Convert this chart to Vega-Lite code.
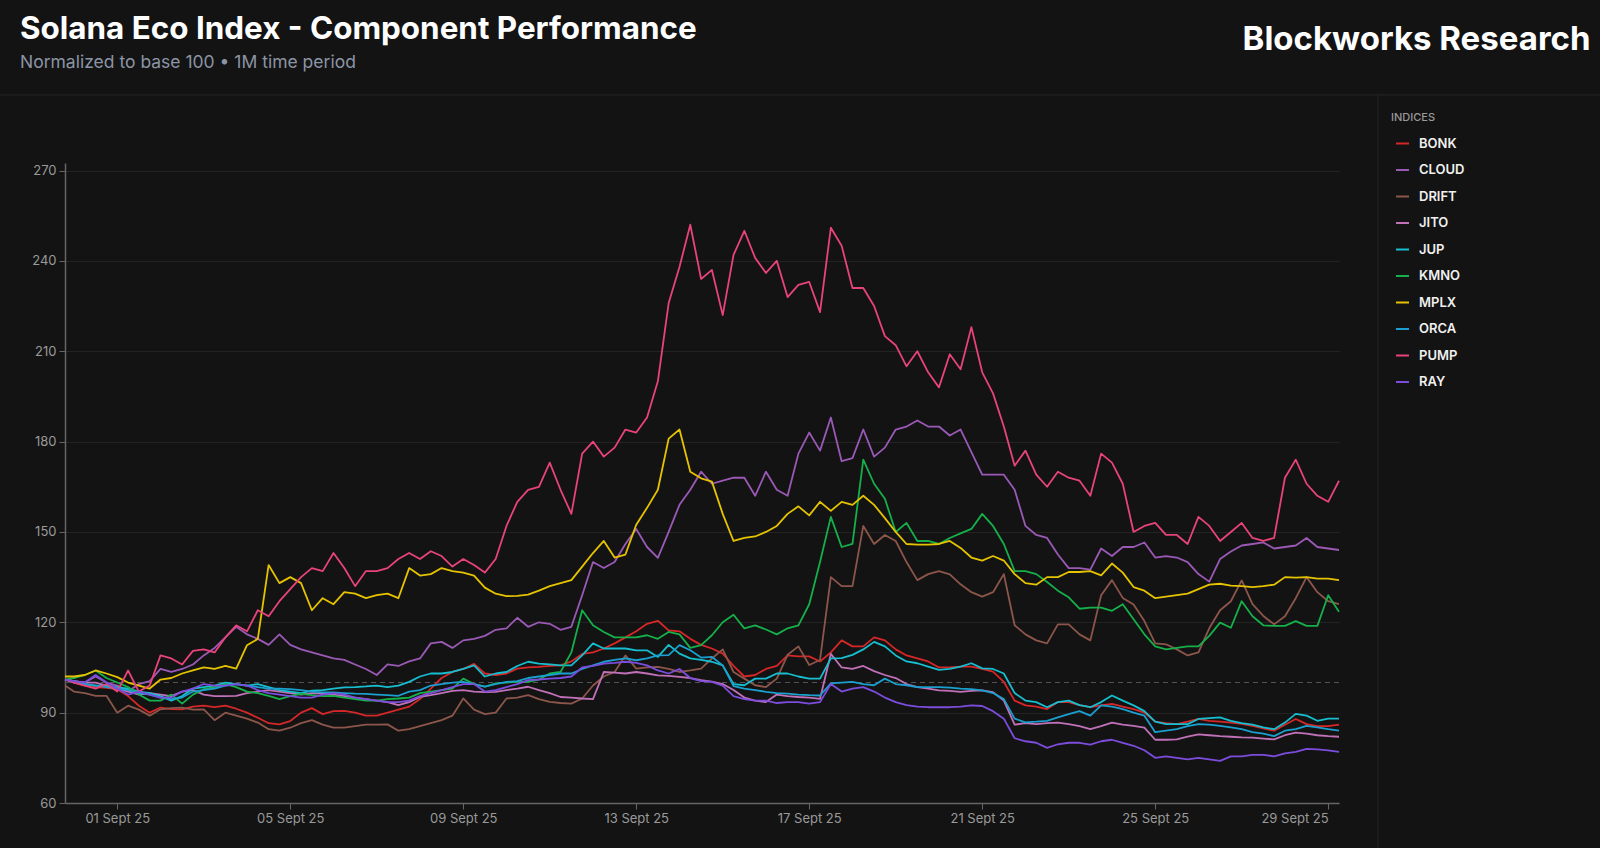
{
"$schema":"https://vega.github.io/schema/vega-lite/v6.json",
"width":1274,"height":640,
"autosize":{"type":"none"},
"padding":{"left":65,"top":163,"right":261,"bottom":45},
"background":"#131313",
"config":{"view":{"stroke":null},"font":"Inter"},
"title":{"text":"Solana Eco Index - Component Performance","subtitle":"Normalized to base 100 • 1M time period","anchor":"start","frame":"group","dx":-45,"offset":-48,"font":"Inter","fontSize":31.4,"fontWeight":700,"color":"#ffffff","subtitleFont":"Inter","subtitleColor":"#8b95a5","subtitleFontSize":17.5,"subtitleFontWeight":400,"subtitlePadding":8},
"datasets":{"prices":[
{"t":"2025-08-30T19:00","BONK":101,"CLOUD":101,"DRIFT":99,"JITO":101,"JUP":101,"KMNO":101,"MPLX":102,"ORCA":101,"PUMP":101,"RAY":101},
{"t":"2025-08-31T00:00","BONK":100,"CLOUD":100.5,"DRIFT":97,"JITO":100.5,"JUP":100.5,"KMNO":101.5,"MPLX":102,"ORCA":100,"PUMP":100,"RAY":100.5},
{"t":"2025-08-31T06:00","BONK":99,"CLOUD":100,"DRIFT":96.5,"JITO":100,"JUP":99.5,"KMNO":102.5,"MPLX":102.5,"ORCA":99.5,"PUMP":99,"RAY":100},
{"t":"2025-08-31T12:00","BONK":98.5,"CLOUD":102,"DRIFT":95.6,"JITO":100,"JUP":99,"KMNO":104,"MPLX":104,"ORCA":99,"PUMP":98,"RAY":102.5},
{"t":"2025-08-31T18:00","BONK":98.2,"CLOUD":100,"DRIFT":95.6,"JITO":99,"JUP":99,"KMNO":101.5,"MPLX":103,"ORCA":98.5,"PUMP":99.5,"RAY":100},
{"t":"2025-09-01T00:00","BONK":97.8,"CLOUD":99,"DRIFT":90,"JITO":98,"JUP":98.5,"KMNO":100,"MPLX":101.8,"ORCA":98,"PUMP":97,"RAY":98},
{"t":"2025-09-01T06:00","BONK":95.5,"CLOUD":97,"DRIFT":92.3,"JITO":97,"JUP":98,"KMNO":98.5,"MPLX":100,"ORCA":97.5,"PUMP":104,"RAY":96},
{"t":"2025-09-01T12:00","BONK":92.3,"CLOUD":99.5,"DRIFT":91,"JITO":96,"JUP":97,"KMNO":96,"MPLX":99,"ORCA":96.5,"PUMP":97,"RAY":97},
{"t":"2025-09-01T18:00","BONK":90,"CLOUD":100.5,"DRIFT":89,"JITO":96.5,"JUP":96.5,"KMNO":94,"MPLX":98,"ORCA":96,"PUMP":99,"RAY":96},
{"t":"2025-09-02T00:00","BONK":91.7,"CLOUD":104.5,"DRIFT":91.1,"JITO":96,"JUP":95.5,"KMNO":94,"MPLX":101,"ORCA":95,"PUMP":109,"RAY":95},
{"t":"2025-09-02T06:00","BONK":91.2,"CLOUD":103.5,"DRIFT":91.5,"JITO":95.5,"JUP":94,"KMNO":96,"MPLX":101.5,"ORCA":94.5,"PUMP":108,"RAY":95},
{"t":"2025-09-02T12:00","BONK":91.1,"CLOUD":104.5,"DRIFT":91.7,"JITO":97,"JUP":95.5,"KMNO":93,"MPLX":103,"ORCA":95,"PUMP":106,"RAY":97},
{"t":"2025-09-02T18:00","BONK":92,"CLOUD":106,"DRIFT":91,"JITO":97.5,"JUP":98,"KMNO":96,"MPLX":104,"ORCA":97,"PUMP":110.5,"RAY":98},
{"t":"2025-09-03T00:00","BONK":92.3,"CLOUD":109,"DRIFT":91.1,"JITO":96,"JUP":98.5,"KMNO":97.8,"MPLX":105,"ORCA":97.5,"PUMP":111,"RAY":99.5},
{"t":"2025-09-03T06:00","BONK":91.8,"CLOUD":111.5,"DRIFT":87.5,"JITO":95.5,"JUP":99,"KMNO":98.5,"MPLX":104.5,"ORCA":98,"PUMP":110,"RAY":99},
{"t":"2025-09-03T12:00","BONK":92.3,"CLOUD":115,"DRIFT":90,"JITO":95.5,"JUP":100,"KMNO":99.5,"MPLX":105.5,"ORCA":99,"PUMP":115,"RAY":99},
{"t":"2025-09-03T18:00","BONK":91.3,"CLOUD":118.5,"DRIFT":89,"JITO":95.6,"JUP":99.5,"KMNO":98.5,"MPLX":104.6,"ORCA":99.5,"PUMP":119,"RAY":99.5},
{"t":"2025-09-04T00:00","BONK":90,"CLOUD":116,"DRIFT":88,"JITO":96.5,"JUP":99,"KMNO":97,"MPLX":112.4,"ORCA":99,"PUMP":117,"RAY":99},
{"t":"2025-09-04T06:00","BONK":88.3,"CLOUD":114.5,"DRIFT":86.7,"JITO":97,"JUP":99.5,"KMNO":96.5,"MPLX":114.5,"ORCA":98.5,"PUMP":124,"RAY":97.5},
{"t":"2025-09-04T12:00","BONK":86.5,"CLOUD":112.5,"DRIFT":84.5,"JITO":97.5,"JUP":98.5,"KMNO":95.6,"MPLX":139,"ORCA":98,"PUMP":122,"RAY":96.5},
{"t":"2025-09-04T18:00","BONK":86.1,"CLOUD":116,"DRIFT":84,"JITO":97,"JUP":97.5,"KMNO":94.5,"MPLX":133,"ORCA":98,"PUMP":127,"RAY":96},
{"t":"2025-09-05T00:00","BONK":87.2,"CLOUD":112.5,"DRIFT":85,"JITO":96.5,"JUP":97,"KMNO":95.5,"MPLX":135,"ORCA":97.8,"PUMP":131,"RAY":95.5},
{"t":"2025-09-05T06:00","BONK":90,"CLOUD":111,"DRIFT":86.5,"JITO":96,"JUP":96.5,"KMNO":96.2,"MPLX":133,"ORCA":97.5,"PUMP":135,"RAY":95},
{"t":"2025-09-05T12:00","BONK":91.5,"CLOUD":110,"DRIFT":87.5,"JITO":96.5,"JUP":97.3,"KMNO":95.8,"MPLX":124,"ORCA":97,"PUMP":138,"RAY":95},
{"t":"2025-09-05T18:00","BONK":89.5,"CLOUD":109,"DRIFT":86,"JITO":96.3,"JUP":97.5,"KMNO":95.5,"MPLX":128,"ORCA":96.7,"PUMP":137,"RAY":96},
{"t":"2025-09-06T00:00","BONK":90.5,"CLOUD":108,"DRIFT":85,"JITO":96,"JUP":98,"KMNO":95.6,"MPLX":126,"ORCA":96.7,"PUMP":143,"RAY":96.5},
{"t":"2025-09-06T06:00","BONK":90.6,"CLOUD":107.5,"DRIFT":85,"JITO":95.5,"JUP":98.4,"KMNO":95,"MPLX":130,"ORCA":96.5,"PUMP":138,"RAY":96},
{"t":"2025-09-06T12:00","BONK":90,"CLOUD":106,"DRIFT":85.5,"JITO":95,"JUP":98.5,"KMNO":94.5,"MPLX":129.5,"ORCA":96.3,"PUMP":132,"RAY":95},
{"t":"2025-09-06T18:00","BONK":89,"CLOUD":104.5,"DRIFT":86,"JITO":94.5,"JUP":98.7,"KMNO":94,"MPLX":128,"ORCA":96.2,"PUMP":137,"RAY":94.5},
{"t":"2025-09-07T00:00","BONK":89,"CLOUD":102.5,"DRIFT":86,"JITO":94,"JUP":99,"KMNO":94,"MPLX":129,"ORCA":96,"PUMP":137,"RAY":94},
{"t":"2025-09-07T06:00","BONK":90,"CLOUD":106,"DRIFT":86.1,"JITO":93.5,"JUP":98.5,"KMNO":94.5,"MPLX":129.5,"ORCA":95.8,"PUMP":138,"RAY":93.5},
{"t":"2025-09-07T12:00","BONK":91,"CLOUD":105.5,"DRIFT":84,"JITO":92.5,"JUP":99,"KMNO":94.7,"MPLX":128,"ORCA":95.6,"PUMP":141,"RAY":93.5},
{"t":"2025-09-07T18:00","BONK":92,"CLOUD":107,"DRIFT":84.5,"JITO":93.5,"JUP":100.2,"KMNO":95,"MPLX":138,"ORCA":97,"PUMP":143,"RAY":94},
{"t":"2025-09-08T00:00","BONK":94.5,"CLOUD":108,"DRIFT":85.5,"JITO":95.2,"JUP":102,"KMNO":96.5,"MPLX":135.5,"ORCA":97.5,"PUMP":141,"RAY":95.5},
{"t":"2025-09-08T06:00","BONK":98,"CLOUD":113,"DRIFT":86.5,"JITO":95.8,"JUP":103,"KMNO":97,"MPLX":136,"ORCA":99,"PUMP":143.6,"RAY":96.5},
{"t":"2025-09-08T12:00","BONK":101.5,"CLOUD":113.5,"DRIFT":87.5,"JITO":96.5,"JUP":103,"KMNO":97.5,"MPLX":138,"ORCA":99.5,"PUMP":142,"RAY":97.5},
{"t":"2025-09-08T18:00","BONK":103.5,"CLOUD":111.5,"DRIFT":89,"JITO":97.2,"JUP":103.5,"KMNO":98,"MPLX":137,"ORCA":100,"PUMP":138.5,"RAY":98.5},
{"t":"2025-09-09T00:00","BONK":104.5,"CLOUD":114,"DRIFT":94.7,"JITO":97.5,"JUP":104.5,"KMNO":101.3,"MPLX":136.5,"ORCA":100.2,"PUMP":141,"RAY":99.5},
{"t":"2025-09-09T06:00","BONK":106.2,"CLOUD":114.5,"DRIFT":91,"JITO":97,"JUP":105.7,"KMNO":99.5,"MPLX":135.5,"ORCA":99.5,"PUMP":139,"RAY":99.5},
{"t":"2025-09-09T12:00","BONK":103,"CLOUD":115.5,"DRIFT":89.5,"JITO":96.8,"JUP":102,"KMNO":98.6,"MPLX":131.5,"ORCA":98.6,"PUMP":136.5,"RAY":97},
{"t":"2025-09-09T18:00","BONK":102.5,"CLOUD":117.5,"DRIFT":90,"JITO":96.9,"JUP":103,"KMNO":99.7,"MPLX":129.5,"ORCA":99.5,"PUMP":141,"RAY":97.5},
{"t":"2025-09-10T00:00","BONK":103,"CLOUD":118,"DRIFT":94.7,"JITO":97.5,"JUP":103.5,"KMNO":100,"MPLX":128.7,"ORCA":100.2,"PUMP":152,"RAY":98.5},
{"t":"2025-09-10T06:00","BONK":104.6,"CLOUD":121.5,"DRIFT":95,"JITO":98,"JUP":105.5,"KMNO":100.2,"MPLX":128.8,"ORCA":100.5,"PUMP":160,"RAY":99.5},
{"t":"2025-09-10T12:00","BONK":105,"CLOUD":118.5,"DRIFT":95.8,"JITO":98.6,"JUP":106.9,"KMNO":100.2,"MPLX":129.2,"ORCA":101.5,"PUMP":164,"RAY":100.8},
{"t":"2025-09-10T18:00","BONK":105.2,"CLOUD":120,"DRIFT":94.5,"JITO":97.5,"JUP":106.3,"KMNO":101,"MPLX":130.5,"ORCA":102,"PUMP":165,"RAY":101},
{"t":"2025-09-11T00:00","BONK":105.5,"CLOUD":119.5,"DRIFT":93.6,"JITO":96.5,"JUP":106,"KMNO":103,"MPLX":132,"ORCA":102.5,"PUMP":173,"RAY":101.3},
{"t":"2025-09-11T06:00","BONK":105.7,"CLOUD":117.5,"DRIFT":93.2,"JITO":95.2,"JUP":105.7,"KMNO":103.5,"MPLX":133,"ORCA":103,"PUMP":164,"RAY":101.5},
{"t":"2025-09-11T12:00","BONK":107,"CLOUD":118.5,"DRIFT":93,"JITO":95,"JUP":105.7,"KMNO":110,"MPLX":134,"ORCA":103,"PUMP":156,"RAY":102},
{"t":"2025-09-11T18:00","BONK":109.5,"CLOUD":129,"DRIFT":94.7,"JITO":94.7,"JUP":109,"KMNO":124,"MPLX":138.5,"ORCA":104.5,"PUMP":176,"RAY":105},
{"t":"2025-09-12T00:00","BONK":110,"CLOUD":140,"DRIFT":99,"JITO":94.5,"JUP":113,"KMNO":119,"MPLX":143,"ORCA":105.7,"PUMP":180,"RAY":105.5},
{"t":"2025-09-12T06:00","BONK":111.3,"CLOUD":138,"DRIFT":102,"JITO":103.5,"JUP":111.3,"KMNO":116.8,"MPLX":147,"ORCA":106.9,"PUMP":175,"RAY":106.3},
{"t":"2025-09-12T12:00","BONK":113,"CLOUD":140,"DRIFT":103.5,"JITO":103.3,"JUP":111.3,"KMNO":115,"MPLX":141.5,"ORCA":107.5,"PUMP":178,"RAY":106.5},
{"t":"2025-09-12T18:00","BONK":115,"CLOUD":146,"DRIFT":109,"JITO":103,"JUP":111.3,"KMNO":115,"MPLX":142.5,"ORCA":108,"PUMP":184,"RAY":106.9},
{"t":"2025-09-13T00:00","BONK":117,"CLOUD":151,"DRIFT":104.6,"JITO":103.5,"JUP":110.7,"KMNO":115,"MPLX":152.4,"ORCA":107.4,"PUMP":183,"RAY":106.5},
{"t":"2025-09-13T06:00","BONK":119.5,"CLOUD":145,"DRIFT":105,"JITO":103,"JUP":110.7,"KMNO":115.7,"MPLX":158,"ORCA":108,"PUMP":188,"RAY":105.7},
{"t":"2025-09-13T12:00","BONK":120.5,"CLOUD":141.4,"DRIFT":105.2,"JITO":102.4,"JUP":108.5,"KMNO":114.5,"MPLX":164,"ORCA":109,"PUMP":200,"RAY":104},
{"t":"2025-09-13T18:00","BONK":117.3,"CLOUD":150,"DRIFT":104.5,"JITO":102.2,"JUP":112.5,"KMNO":116.8,"MPLX":181,"ORCA":109.1,"PUMP":226,"RAY":103},
{"t":"2025-09-14T00:00","BONK":117,"CLOUD":159,"DRIFT":103.5,"JITO":101.9,"JUP":109.6,"KMNO":116,"MPLX":184,"ORCA":112.4,"PUMP":238,"RAY":104.5},
{"t":"2025-09-14T06:00","BONK":114.5,"CLOUD":164,"DRIFT":104,"JITO":101.5,"JUP":108,"KMNO":111.5,"MPLX":170,"ORCA":110.7,"PUMP":252,"RAY":101.5},
{"t":"2025-09-14T12:00","BONK":112.5,"CLOUD":170,"DRIFT":104.6,"JITO":100.8,"JUP":107.5,"KMNO":112.4,"MPLX":167.8,"ORCA":108.3,"PUMP":234,"RAY":100.5},
{"t":"2025-09-14T18:00","BONK":111.3,"CLOUD":166,"DRIFT":108,"JITO":100.3,"JUP":106.9,"KMNO":115.7,"MPLX":166.7,"ORCA":108.5,"PUMP":237,"RAY":100.2},
{"t":"2025-09-15T00:00","BONK":109.6,"CLOUD":167,"DRIFT":111,"JITO":99.5,"JUP":105.7,"KMNO":120,"MPLX":156,"ORCA":105.7,"PUMP":222,"RAY":99},
{"t":"2025-09-15T06:00","BONK":105.5,"CLOUD":168,"DRIFT":103.5,"JITO":97.5,"JUP":99.5,"KMNO":122.5,"MPLX":147,"ORCA":98.8,"PUMP":242,"RAY":95.5},
{"t":"2025-09-15T12:00","BONK":102,"CLOUD":168,"DRIFT":101.3,"JITO":95,"JUP":99.1,"KMNO":118,"MPLX":148,"ORCA":98,"PUMP":250,"RAY":94.5},
{"t":"2025-09-15T18:00","BONK":102.5,"CLOUD":162,"DRIFT":99.1,"JITO":94,"JUP":101.3,"KMNO":119,"MPLX":148.5,"ORCA":97.5,"PUMP":241,"RAY":94},
{"t":"2025-09-16T00:00","BONK":104.5,"CLOUD":170,"DRIFT":98.5,"JITO":93.5,"JUP":101.3,"KMNO":117.6,"MPLX":150,"ORCA":96.9,"PUMP":236,"RAY":94},
{"t":"2025-09-16T06:00","BONK":105.5,"CLOUD":164,"DRIFT":101.3,"JITO":96,"JUP":103,"KMNO":116,"MPLX":152,"ORCA":96.5,"PUMP":240,"RAY":93.2},
{"t":"2025-09-16T12:00","BONK":109,"CLOUD":162,"DRIFT":109.2,"JITO":95.5,"JUP":103,"KMNO":118,"MPLX":156,"ORCA":96.3,"PUMP":228,"RAY":93.5},
{"t":"2025-09-16T18:00","BONK":108.7,"CLOUD":176,"DRIFT":112,"JITO":95.2,"JUP":102,"KMNO":119,"MPLX":158.5,"ORCA":96,"PUMP":232,"RAY":93.5},
{"t":"2025-09-17T00:00","BONK":108.7,"CLOUD":183,"DRIFT":105.8,"JITO":95,"JUP":101.3,"KMNO":126,"MPLX":155.5,"ORCA":95.8,"PUMP":233,"RAY":93},
{"t":"2025-09-17T06:00","BONK":107,"CLOUD":177,"DRIFT":107.5,"JITO":94.6,"JUP":101.3,"KMNO":140,"MPLX":160,"ORCA":95.7,"PUMP":223,"RAY":93.5},
{"t":"2025-09-17T12:00","BONK":110,"CLOUD":188,"DRIFT":135,"JITO":109.5,"JUP":108,"KMNO":155,"MPLX":157,"ORCA":99.7,"PUMP":251,"RAY":99.5},
{"t":"2025-09-17T18:00","BONK":114,"CLOUD":173.5,"DRIFT":132,"JITO":105,"JUP":108.1,"KMNO":145,"MPLX":160,"ORCA":100,"PUMP":245,"RAY":97},
{"t":"2025-09-18T00:00","BONK":112,"CLOUD":174.5,"DRIFT":132,"JITO":104.5,"JUP":109.2,"KMNO":146,"MPLX":159,"ORCA":100.2,"PUMP":231,"RAY":98},
{"t":"2025-09-18T06:00","BONK":112,"CLOUD":184,"DRIFT":152,"JITO":105.5,"JUP":111,"KMNO":174,"MPLX":162,"ORCA":99.5,"PUMP":231,"RAY":98.5},
{"t":"2025-09-18T12:00","BONK":115,"CLOUD":175,"DRIFT":146,"JITO":103.8,"JUP":113.5,"KMNO":166,"MPLX":159,"ORCA":99.1,"PUMP":225,"RAY":97},
{"t":"2025-09-18T18:00","BONK":114,"CLOUD":178,"DRIFT":149,"JITO":102.5,"JUP":112,"KMNO":161,"MPLX":154.6,"ORCA":101.3,"PUMP":215,"RAY":95},
{"t":"2025-09-19T00:00","BONK":111,"CLOUD":184,"DRIFT":147,"JITO":101.5,"JUP":109,"KMNO":150,"MPLX":150,"ORCA":99.5,"PUMP":212,"RAY":93.5},
{"t":"2025-09-19T06:00","BONK":109,"CLOUD":185,"DRIFT":140,"JITO":99.5,"JUP":107,"KMNO":153,"MPLX":146,"ORCA":99.1,"PUMP":205,"RAY":92.5},
{"t":"2025-09-19T12:00","BONK":108,"CLOUD":187,"DRIFT":134,"JITO":98.5,"JUP":106.4,"KMNO":147,"MPLX":145.8,"ORCA":98.5,"PUMP":210,"RAY":92},
{"t":"2025-09-19T18:00","BONK":107,"CLOUD":185,"DRIFT":136,"JITO":98,"JUP":105.3,"KMNO":147,"MPLX":145.8,"ORCA":98.5,"PUMP":203,"RAY":91.8},
{"t":"2025-09-20T00:00","BONK":105,"CLOUD":185,"DRIFT":137,"JITO":97.4,"JUP":104.2,"KMNO":146,"MPLX":146,"ORCA":98.5,"PUMP":198,"RAY":91.8},
{"t":"2025-09-20T06:00","BONK":105,"CLOUD":182,"DRIFT":135.9,"JITO":97.2,"JUP":104.5,"KMNO":148,"MPLX":147,"ORCA":98.3,"PUMP":209,"RAY":91.8},
{"t":"2025-09-20T12:00","BONK":105.3,"CLOUD":184,"DRIFT":132.6,"JITO":96.9,"JUP":105.3,"KMNO":149.5,"MPLX":144.7,"ORCA":98,"PUMP":204,"RAY":92},
{"t":"2025-09-20T18:00","BONK":105.3,"CLOUD":176.5,"DRIFT":130,"JITO":97.2,"JUP":106.4,"KMNO":151,"MPLX":141.5,"ORCA":97.8,"PUMP":218,"RAY":92.4},
{"t":"2025-09-21T00:00","BONK":104.5,"CLOUD":169,"DRIFT":128.5,"JITO":97.4,"JUP":104.7,"KMNO":156,"MPLX":140.5,"ORCA":97.4,"PUMP":203,"RAY":92.2},
{"t":"2025-09-21T06:00","BONK":103.6,"CLOUD":169,"DRIFT":130,"JITO":96.8,"JUP":104.5,"KMNO":152,"MPLX":142,"ORCA":96.5,"PUMP":196,"RAY":90.5},
{"t":"2025-09-21T12:00","BONK":100.2,"CLOUD":169,"DRIFT":136,"JITO":94,"JUP":103,"KMNO":146,"MPLX":140.5,"ORCA":94.5,"PUMP":185,"RAY":88},
{"t":"2025-09-21T18:00","BONK":94,"CLOUD":164,"DRIFT":119,"JITO":86,"JUP":96.5,"KMNO":137,"MPLX":136,"ORCA":88,"PUMP":172,"RAY":81.5},
{"t":"2025-09-22T00:00","BONK":92.4,"CLOUD":152,"DRIFT":116,"JITO":86.5,"JUP":94,"KMNO":137,"MPLX":133,"ORCA":86.8,"PUMP":177,"RAY":80.5},
{"t":"2025-09-22T06:00","BONK":92,"CLOUD":149,"DRIFT":114,"JITO":86.2,"JUP":93.5,"KMNO":136,"MPLX":132.5,"ORCA":87,"PUMP":169,"RAY":80},
{"t":"2025-09-22T12:00","BONK":91.2,"CLOUD":148,"DRIFT":113,"JITO":86.5,"JUP":91.8,"KMNO":133.4,"MPLX":135,"ORCA":87.3,"PUMP":165,"RAY":78.3},
{"t":"2025-09-22T18:00","BONK":93.5,"CLOUD":142.5,"DRIFT":119.3,"JITO":86.7,"JUP":93.5,"KMNO":130.5,"MPLX":135,"ORCA":88.4,"PUMP":170,"RAY":79.5},
{"t":"2025-09-23T00:00","BONK":93.5,"CLOUD":138,"DRIFT":119.3,"JITO":86.2,"JUP":94,"KMNO":128.3,"MPLX":136.7,"ORCA":89.5,"PUMP":168,"RAY":80},
{"t":"2025-09-23T06:00","BONK":92.5,"CLOUD":138,"DRIFT":116,"JITO":85.5,"JUP":92.5,"KMNO":124.5,"MPLX":136.7,"ORCA":90.5,"PUMP":167,"RAY":80},
{"t":"2025-09-23T12:00","BONK":91.8,"CLOUD":137.5,"DRIFT":114,"JITO":84.5,"JUP":91.8,"KMNO":124.9,"MPLX":137,"ORCA":89,"PUMP":162,"RAY":79.4},
{"t":"2025-09-23T18:00","BONK":92.4,"CLOUD":144.5,"DRIFT":129,"JITO":85.5,"JUP":93.5,"KMNO":124.9,"MPLX":135.6,"ORCA":92.4,"PUMP":176,"RAY":80.5},
{"t":"2025-09-24T00:00","BONK":92.9,"CLOUD":142,"DRIFT":134,"JITO":86.7,"JUP":95.7,"KMNO":123.8,"MPLX":139.5,"ORCA":92,"PUMP":173,"RAY":81},
{"t":"2025-09-24T06:00","BONK":92,"CLOUD":145,"DRIFT":128.1,"JITO":86,"JUP":94,"KMNO":126,"MPLX":136.5,"ORCA":91.2,"PUMP":166,"RAY":80},
{"t":"2025-09-24T12:00","BONK":91.2,"CLOUD":145,"DRIFT":125.9,"JITO":85.6,"JUP":92.4,"KMNO":121,"MPLX":131.7,"ORCA":90,"PUMP":150,"RAY":79},
{"t":"2025-09-24T18:00","BONK":90,"CLOUD":146.5,"DRIFT":120.4,"JITO":85,"JUP":90.5,"KMNO":116,"MPLX":130.5,"ORCA":89,"PUMP":152,"RAY":77.5},
{"t":"2025-09-25T00:00","BONK":87,"CLOUD":141.5,"DRIFT":113,"JITO":81,"JUP":87,"KMNO":112,"MPLX":128,"ORCA":83.5,"PUMP":153,"RAY":75},
{"t":"2025-09-25T06:00","BONK":86.5,"CLOUD":142,"DRIFT":112.7,"JITO":81,"JUP":86.2,"KMNO":111,"MPLX":128.5,"ORCA":84,"PUMP":149,"RAY":75.5},
{"t":"2025-09-25T12:00","BONK":86.2,"CLOUD":141.5,"DRIFT":111,"JITO":81.1,"JUP":86.2,"KMNO":111.5,"MPLX":129,"ORCA":84.5,"PUMP":149,"RAY":75},
{"t":"2025-09-25T18:00","BONK":87,"CLOUD":140,"DRIFT":109,"JITO":82,"JUP":86.2,"KMNO":112,"MPLX":129.5,"ORCA":85.5,"PUMP":146,"RAY":74.5},
{"t":"2025-09-26T00:00","BONK":87.9,"CLOUD":136,"DRIFT":110,"JITO":82.8,"JUP":87.9,"KMNO":112,"MPLX":131,"ORCA":86.2,"PUMP":155,"RAY":75},
{"t":"2025-09-26T06:00","BONK":87.3,"CLOUD":133.5,"DRIFT":118,"JITO":82.5,"JUP":88.2,"KMNO":115.5,"MPLX":132.5,"ORCA":86,"PUMP":152,"RAY":74.5},
{"t":"2025-09-26T12:00","BONK":87,"CLOUD":141,"DRIFT":124,"JITO":82.2,"JUP":88.4,"KMNO":119.9,"MPLX":132.8,"ORCA":85.6,"PUMP":147,"RAY":74},
{"t":"2025-09-26T18:00","BONK":86.7,"CLOUD":143.5,"DRIFT":127,"JITO":82,"JUP":87.3,"KMNO":118.2,"MPLX":132.2,"ORCA":85.1,"PUMP":150,"RAY":75.5},
{"t":"2025-09-27T00:00","BONK":86.3,"CLOUD":145.5,"DRIFT":133.9,"JITO":81.8,"JUP":86.5,"KMNO":127,"MPLX":132,"ORCA":84.5,"PUMP":153,"RAY":75.5},
{"t":"2025-09-27T06:00","BONK":85.6,"CLOUD":146,"DRIFT":126,"JITO":81.7,"JUP":86,"KMNO":122,"MPLX":131.7,"ORCA":83.5,"PUMP":148,"RAY":76},
{"t":"2025-09-27T12:00","BONK":84.8,"CLOUD":146.5,"DRIFT":122.1,"JITO":81.4,"JUP":85.1,"KMNO":119,"MPLX":132,"ORCA":83,"PUMP":147,"RAY":76},
{"t":"2025-09-27T18:00","BONK":84,"CLOUD":144.5,"DRIFT":119.3,"JITO":81.1,"JUP":84.5,"KMNO":118.8,"MPLX":132.5,"ORCA":82.2,"PUMP":148,"RAY":75.5},
{"t":"2025-09-28T00:00","BONK":86,"CLOUD":145,"DRIFT":122,"JITO":82.5,"JUP":86.7,"KMNO":118.8,"MPLX":135,"ORCA":84,"PUMP":168,"RAY":76.5},
{"t":"2025-09-28T06:00","BONK":87.9,"CLOUD":145.5,"DRIFT":128,"JITO":83.4,"JUP":89.6,"KMNO":120.4,"MPLX":134.8,"ORCA":84.5,"PUMP":174,"RAY":77},
{"t":"2025-09-28T12:00","BONK":86.2,"CLOUD":148,"DRIFT":135,"JITO":83,"JUP":89,"KMNO":118.8,"MPLX":135,"ORCA":85.6,"PUMP":166,"RAY":78},
{"t":"2025-09-28T18:00","BONK":85.5,"CLOUD":145,"DRIFT":130,"JITO":82.5,"JUP":87.3,"KMNO":118.8,"MPLX":134.5,"ORCA":85.1,"PUMP":162,"RAY":77.8},
{"t":"2025-09-29T00:00","BONK":85.5,"CLOUD":144.5,"DRIFT":127,"JITO":82.2,"JUP":88,"KMNO":129,"MPLX":134.5,"ORCA":84.5,"PUMP":160,"RAY":77.5},
{"t":"2025-09-29T06:00","BONK":86,"CLOUD":144,"DRIFT":126,"JITO":82,"JUP":88,"KMNO":123.5,"MPLX":134,"ORCA":84,"PUMP":167,"RAY":77}
]},
"layer":[
{"data":{"values":[{}]},"mark":{"type":"rule","color":"#262626","strokeWidth":1},
 "encoding":{"x":{"datum":{"year":2025,"month":8,"date":29},"type":"temporal"},"x2":{"datum":{"year":2025,"month":10,"date":8}},"y":{"datum":295.1,"type":"quantitative"}}},
{"data":{"values":[{}]},"mark":{"type":"rule","color":"#262626","strokeWidth":1},
 "encoding":{"x":{"datum":{"year":2025,"month":9,"date":30,"hours":3,"minutes":40},"type":"temporal"},"y":{"datum":295.1,"type":"quantitative"},"y2":{"datum":30}}},
{"data":{"values":[{}]},"mark":{"type":"rule","color":"#555555","strokeWidth":1,"strokeDash":[5,4]},
 "encoding":{"y":{"datum":100,"type":"quantitative"}}},
{"data":{"name":"prices"},
 "transform":[{"fold":["BONK","CLOUD","DRIFT","JITO","JUP","KMNO","MPLX","ORCA","PUMP","RAY"],"as":["index","value"]}],
 "mark":{"type":"line","strokeWidth":1.8,"strokeJoin":"round"},
 "encoding":{
  "x":{"field":"t","type":"temporal",
   "scale":{"domain":[{"year":2025,"month":8,"date":30,"hours":19},{"year":2025,"month":9,"date":29,"hours":6}],"nice":false},
   "axis":{"values":[{"year":2025,"month":9,"date":1},{"year":2025,"month":9,"date":5},{"year":2025,"month":9,"date":9},{"year":2025,"month":9,"date":13},{"year":2025,"month":9,"date":17},{"year":2025,"month":9,"date":21},{"year":2025,"month":9,"date":25},{"year":2025,"month":9,"date":29}],
    "format":"%d Sept %y","labelColor":"#9a9a9a","labelFontSize":13,"labelFont":"Inter","labelPadding":3,"labelFlush":20,
    "tickColor":"#666666","tickSize":6,"domainColor":"#666666","domainWidth":1.5,"grid":false,
    "title":"Blockworks Research","titleX":1525,"titleY":-754,"titleAlign":"right","titleBaseline":"alphabetic","titleFont":"Inter","titleFontSize":33,"titleFontWeight":700,"titleColor":"#ffffff"}},
  "y":{"field":"value","type":"quantitative",
   "scale":{"domain":[60,272.5],"nice":false,"zero":false},
   "axis":{"values":[60,90,120,150,180,210,240,270],"title":null,"labelColor":"#9a9a9a","labelFontSize":13,"labelFont":"Inter","labelPadding":3,
    "tickColor":"#666666","tickSize":6,"domainColor":"#666666","domainWidth":1.5,"grid":true,"gridColor":"#232323","gridWidth":1}},
  "color":{"field":"index","type":"nominal",
   "scale":{"domain":["BONK","CLOUD","DRIFT","JITO","JUP","KMNO","MPLX","ORCA","PUMP","RAY"],
    "range":["#d62728","#9b59b6","#8c564b","#c071b8","#17becf","#16b04a","#e6c300","#1a9fcf","#e8437a","#7c4ddd"]},
   "legend":{"orient":"none","legendX":1326,"legendY":-51,"title":"INDICES","titleColor":"#9a9a9a","titleFont":"Inter","titleFontSize":11,"titleFontWeight":500,"titlePadding":13,
    "labelColor":"#f0f0f0","labelFont":"Inter","labelFontSize":13,"labelFontWeight":600,"labelOffset":9,
    "symbolType":"stroke","symbolSize":169,"symbolStrokeWidth":2,"symbolOffset":4,"rowPadding":11.5,"padding":0,"direction":"vertical"}}
 }}
]
}
